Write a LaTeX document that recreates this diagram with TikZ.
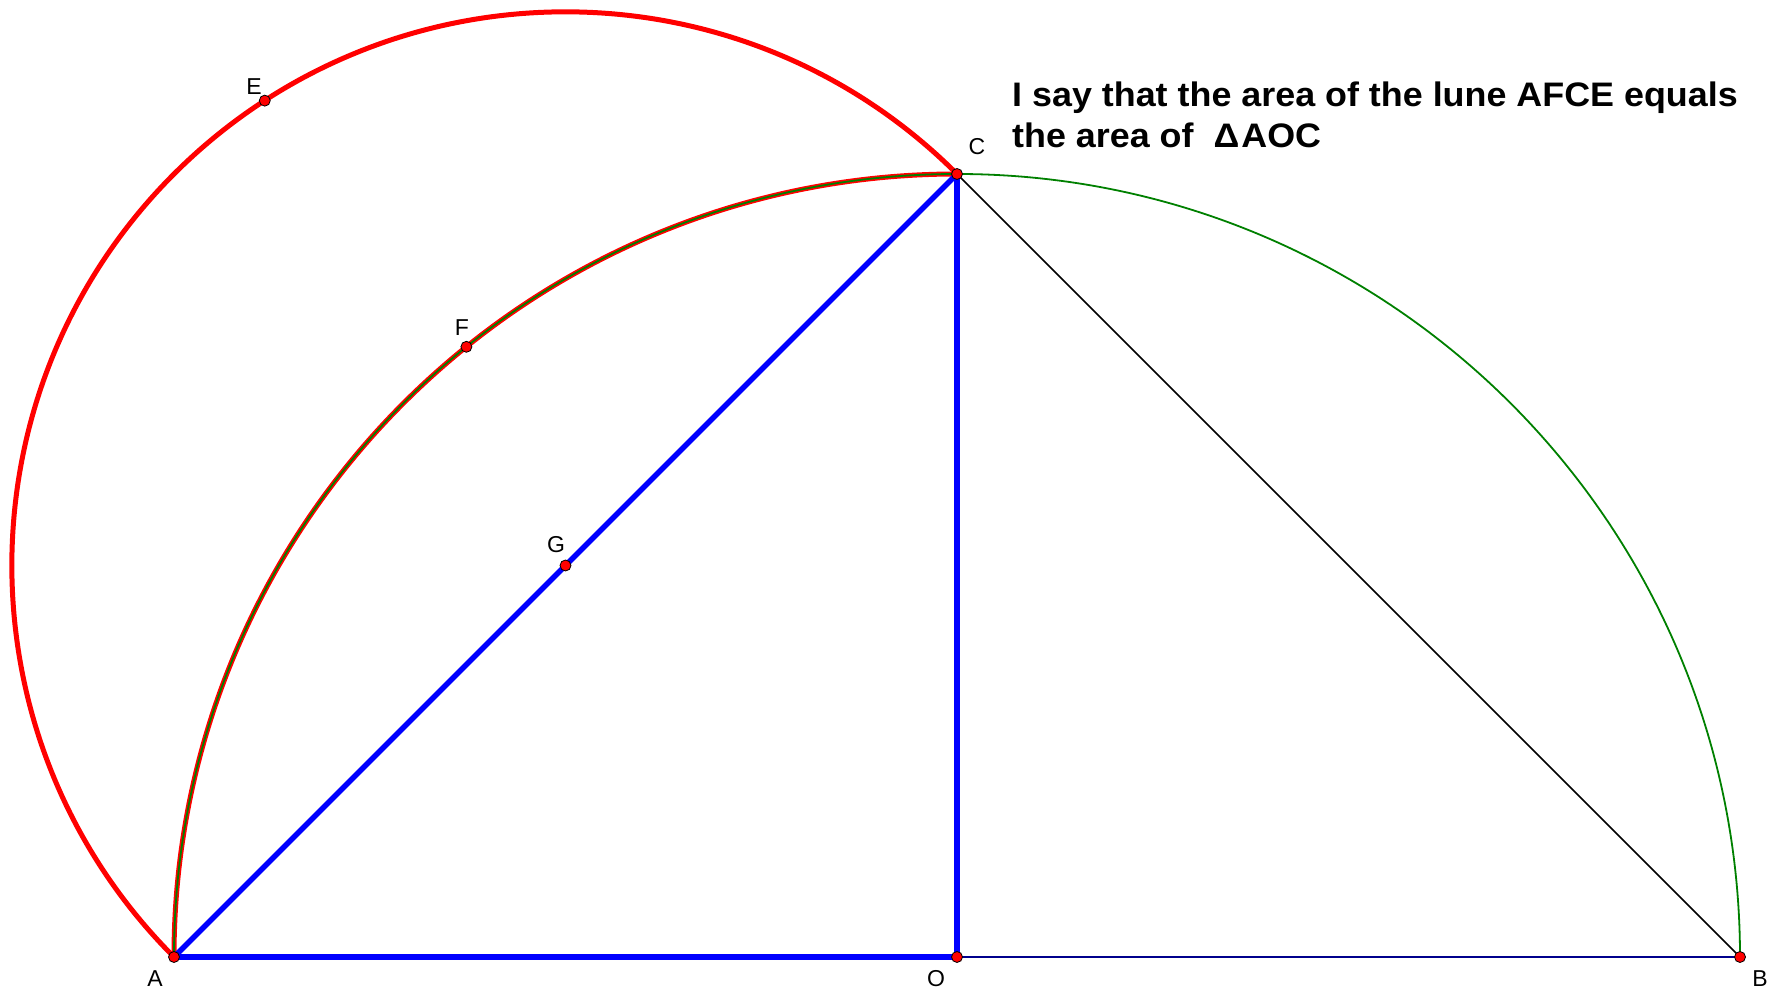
\documentclass[tikz,border=0pt]{standalone}
\usepackage{fontspec}
\usepackage{graphicx}
\setmainfont{Liberation Sans}
\usetikzlibrary{calc}
\begin{document}
\begin{tikzpicture}[x=1pt,y=1pt,
  pt/.style={circle,draw=black,line width=0.8pt,fill=red,inner sep=0pt,minimum size=11pt},
  lbl/.style={font=\fontsize{23}{27}\selectfont,inner sep=0pt},
  thickblue/.style={blue,line width=5.5pt},
  redarc/.style={red,line width=5pt},
  greenarc/.style={green!50!black,line width=1.8pt},
  title/.style={font=\fontsize{34}{41}\selectfont\bfseries,inner sep=0pt,anchor=base west}]
\useasboundingbox (0,0) rectangle (1776,996);
% key points
\coordinate (O) at (957,39);
\coordinate (A) at (174,39);
\coordinate (B) at (1740,39);
\coordinate (C) at (957,822);
\coordinate (G) at (565.5,430.5);
\coordinate (E) at ($(G)+(122.9:553.66)$);
\coordinate (F) at ($(O)+(128.8:783)$);
% big red semicircle on AC
\draw[redarc] (C) arc[start angle=45,end angle=225,radius=553.66];
% red under arc AFC
\draw[redarc] (C) arc[start angle=90,end angle=180,radius=783];
% green semicircle
\draw[greenarc] (B) arc[start angle=0,end angle=180,radius=783];
% lines
\draw[black,line width=1.5pt] (C) -- (B);
\draw[blue!55!black,line width=2pt] (O) -- (B);
\draw[thickblue] (A) -- (O);
\draw[thickblue] (O) -- (C);
\draw[thickblue] (A) -- (C);
% points
\node[pt] (nA) at (A) {};
\node[pt] (nO) at (O) {};
\node[pt] (nB) at (B) {};
\node[pt] (nC) at (C) {};
\node[pt] (nG) at (G) {};
\node[pt] (nE) at (E) {};
\node[pt] (nF) at (F) {};
% labels
\node[lbl] (lA) at (155,17) {A};
\node[lbl] (lO) at (936,17) {O};
\node[lbl] (lB) at (1760,17) {B};
\node[lbl] (lC) at (977,849) {C};
\node[lbl] (lG) at (556,451) {G};
\node[lbl] (lE) at (254,909) {E};
\node[lbl] (lF) at (462,668) {F};
% text
\node[title] (t1) at (1012,889.3) {\scalebox{1.055}[1]{I say that the area of the lune AFCE equals}};
\node[title] (t2) at (1012,848.3) {\scalebox{1.055}[1]{the area of \ Δ\kern2pt AOC}};
\end{tikzpicture}
\end{document}
